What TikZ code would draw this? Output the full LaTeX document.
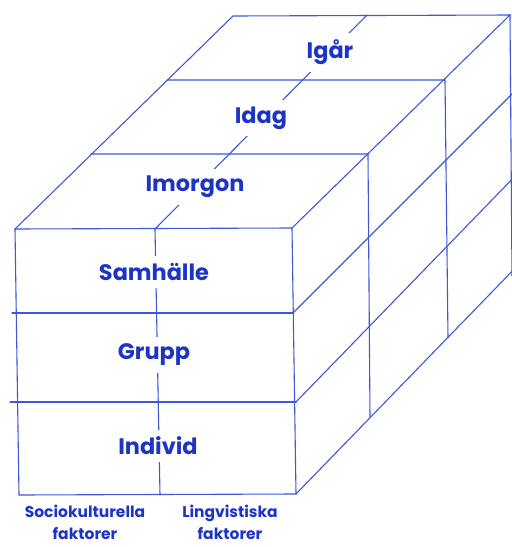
\documentclass[tikz,border=0pt]{standalone}
\usepackage{fontspec}
\setmainfont{Poppins}
\definecolor{lineblue}{RGB}{62,88,214}
\definecolor{textblue}{RGB}{30,52,196}
\begin{document}
\begin{tikzpicture}[x=1pt,y=-1pt,
  edge/.style={draw=lineblue,line width=1.1pt,line cap=round},
  bigtext/.style={text=textblue,font=\bfseries\fontsize{22.4}{26}\selectfont,fill=white,inner sep=7pt},
  smalltext/.style={text=textblue,font=\bfseries\fontsize{15.5}{22}\selectfont,align=center,inner sep=0pt,anchor=north}]
\useasboundingbox (0,0) rectangle (512,547);
\fill[white] (0,0) rectangle (512,547);
\begin{scope}
\clip (0,0) rectangle (512,547);
% corners
\coordinate (ftl) at (15,229);
\coordinate (ftr) at (292,228);
\coordinate (fbr) at (296,494);
\coordinate (fbl) at (19,495);
\coordinate (fmt) at (155,229);
\coordinate (fmb) at (160,495);
\coordinate (h1l) at (12,313);
\coordinate (h1r) at (293,313);
\coordinate (h2l) at (10,402);
\coordinate (h2r) at (296,402);
\coordinate (l1l) at (91,154);
\coordinate (l1r) at (368,154);
\coordinate (l1b) at (370,417);
\coordinate (l2l) at (168,80);
\coordinate (l2r) at (445,80);
\coordinate (l2b) at (448,338);
\coordinate (btl) at (233,16);
\coordinate (btr) at (510,15);
\coordinate (bbr) at (512,276);
\coordinate (bmt) at (367,15);
\coordinate (d2e) at (522,84);
\coordinate (d3e) at (522,169);
\coordinate (d4e) at (522,261);
% front face
\draw[edge] (ftl) -- (ftr) -- (fbr) -- (fbl) -- cycle;
\draw[edge] (h1l) -- (h1r);
\draw[edge] (h2l) -- (h2r);
\draw[edge] (fmt) -- (fmb);
% top face
\draw[edge] (ftl) -- (btl) -- (btr) -- (ftr);
\draw[edge] (l1l) -- (l1r) -- (l1b);
\draw[edge] (l2l) -- (l2r) -- (l2b);
\draw[edge] (fmt) -- (bmt);
% right face
\draw[edge] (btr) -- (bbr);
\draw[edge] (h1r) -- (d2e);
\draw[edge] (h2r) -- (d3e);
\draw[edge] (fbr) -- (d4e);
\end{scope}
% labels
\node[bigtext] (igar) at (330,52) {Igår};
\node[bigtext] (idag) at (261,118) {Idag};
\node[bigtext] (imorgon) at (195,187) {Imorgon};
\node[bigtext] (samhalle) at (154,272) {Samhälle};
\node[bigtext] (grupp) at (154,355) {Grupp};
\node[bigtext] (individ) at (158,446) {Individ};
\node[smalltext] (socio) at (85,505) {Sociokulturella\\faktorer};
\node[smalltext] (lingv) at (230,505) {Lingvistiska\\faktorer};
\end{tikzpicture}
\end{document}
